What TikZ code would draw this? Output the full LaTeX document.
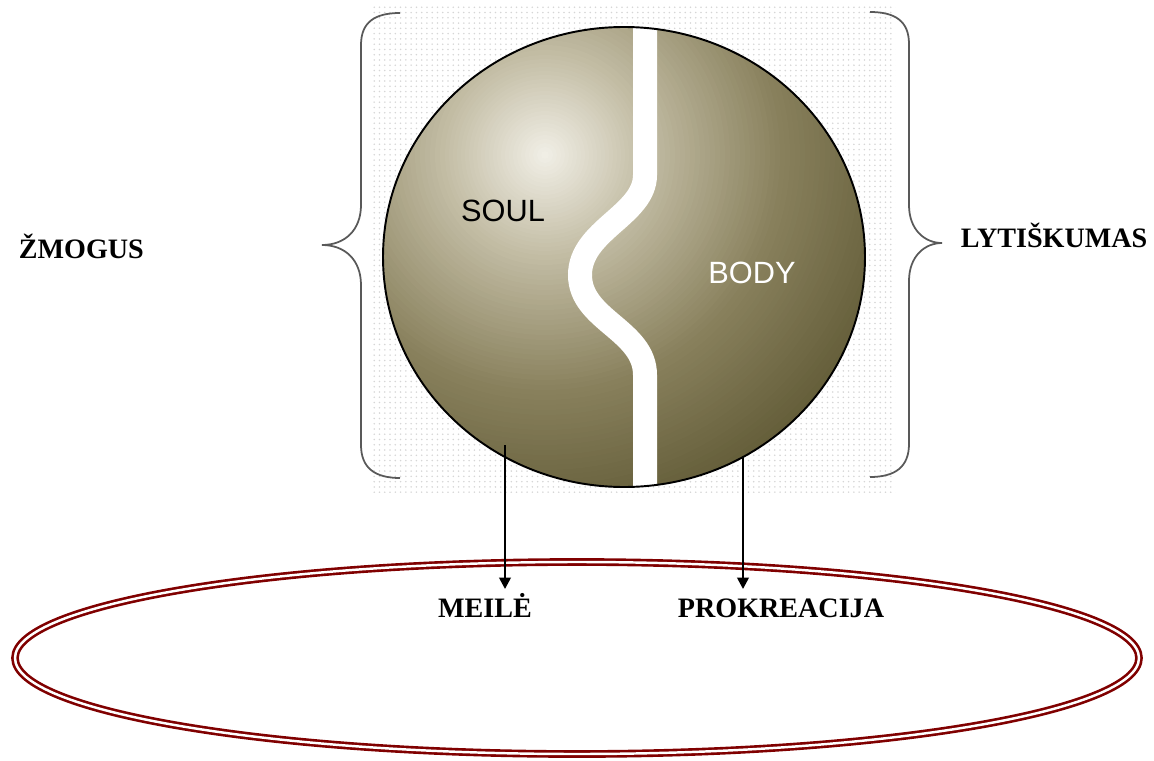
\documentclass[tikz,border=0pt]{standalone}
\usepackage{fontspec}
\setmainfont{Liberation Serif}
\setsansfont{Liberation Sans}
\usetikzlibrary{arrows.meta,patterns}
\definecolor{ballhi}{RGB}{242,240,232}
\definecolor{ballmid}{RGB}{196,190,166}
\definecolor{balllow}{RGB}{136,128,92}
\definecolor{balldark}{RGB}{88,82,46}
\definecolor{ringred}{RGB}{128,0,0}

\begin{document}
\begin{tikzpicture}[x=0.02cm,y=-0.02cm,
    every node/.style={font=\fontsize{16}{18}\selectfont\bfseries,inner sep=2pt},
    ballword/.style={font=\fontsize{17.5}{20}\selectfont\sffamily},
    bracket/.style={black!65,line width=1pt},
    drop/.style={-{Triangle[length=6.5pt,width=6.5pt]},line width=1.4pt}]
    \useasboundingbox (0,0) rectangle (1154,761);
    \fill[pattern=dots,pattern color=black!16] (372,5) rectangle (895,492);
    \begin{scope}
        \clip (624,257) ellipse [x radius=241,y radius=230];
        \foreach \d in {410,405,...,240} {
            \pgfmathsetmacro\p{(\d-240)/1.7}
            \fill[balldark!\p!balllow] (545,155) circle [radius=\d];
        }
        \foreach \d in {235,230,...,100} {
            \pgfmathsetmacro\p{(\d-100)/1.4}
            \fill[balllow!\p!ballmid] (545,155) circle [radius=\d];
        }
        \foreach \d in {96,92,...,2} {
            \pgfmathsetmacro\p{\d/1.0}
            \fill[ballmid!\p!ballhi] (545,155) circle [radius=\d];
        }
        \draw[white,line width=0.48cm] (645,0) -- (645,175) .. controls (645,215) and (580,230) .. (580,275)
            .. controls (580,320) and (645,330) .. (645,375) -- (645,500);
    \end{scope}
    \draw[line width=1.1pt] (624,257) ellipse [x radius=241,y radius=230];
    \draw[bracket] (400,13) .. controls (375,13) and (361,22) .. (361,45) -- (361,205)
        .. controls (361,230) and (345,245) .. (322,245) .. controls (345,245) and (361,260) .. (361,285)
        -- (361,445) .. controls (361,468) and (375,478) .. (400,478);
    \draw[bracket] (870,12) .. controls (895,12) and (909,21) .. (909,44) -- (909,205)
        .. controls (909,230) and (925,243) .. (942,243) .. controls (925,243) and (909,256) .. (909,281)
        -- (909,444) .. controls (909,467) and (895,477) .. (870,477);
    \node[ballword] (soul) at (503,211) {SOUL};
    \node[ballword,white] (body) at (752,273) {BODY};
    \node[anchor=base west] (zmogus) at (15,258) {ŽMOGUS};
    \node[anchor=base west] (lytis) at (957,247) {LYTIŠKUMAS};
    \node[anchor=base] (meile) at (485,617) {MEILĖ};
    \node[anchor=base] (prokre) at (781,617) {PROKREACIJA};
    \draw[ringred,double=white,line width=1.5pt,double distance=1.4pt] (577,658) ellipse [x radius=562,y radius=96];
    \coordinate (soulfoot) at (505,445);
    \coordinate (bodyfoot) at (743,457);
    \draw[drop] (soulfoot) -- (soulfoot |- meile.north);
    \draw[drop] (bodyfoot) -- (bodyfoot |- meile.north);
\end{tikzpicture}
\end{document}
